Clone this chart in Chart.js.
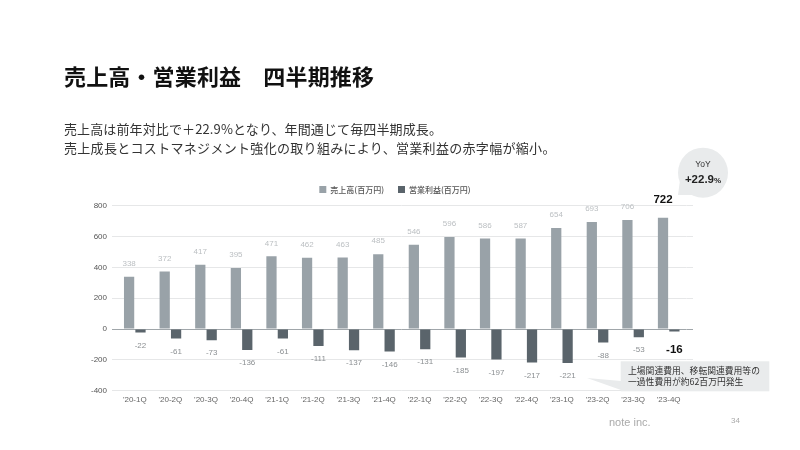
<!DOCTYPE html>
<html lang="ja"><head><meta charset="utf-8">
<style>
html,body{margin:0;padding:0;background:#fff;width:800px;height:450px;overflow:hidden}
body{position:relative;font-family:"Noto Sans CJK JP",sans-serif;color:#222}
canvas{position:absolute;left:0;top:0}
.t{position:absolute;white-space:nowrap}
svg{position:absolute;left:0;top:0}
</style>
<script src="https://cdn.jsdelivr.net/npm/chart.js@4/dist/chart.umd.min.js"></script>
</head><body>
<canvas id="c" width="800" height="450" style="width:800px;height:450px"></canvas>
<div class="t" style="left:64px;top:59px;font-size:22px;font-weight:700;line-height:32px;letter-spacing:.15px;color:#111">売上高・営業利益　四半期推移</div>
<div class="t" style="left:64px;top:119px;font-size:13px;line-height:19px;color:#333"><span style="letter-spacing:.12px">売上高は前年対比で＋22.9%となり、年間通じて毎四半期成長。</span><br><span style="letter-spacing:.31px">売上成長とコストマネジメント強化の取り組みにより、営業利益の赤字幅が縮小。</span></div>
<svg width="800" height="450">
<circle cx="703" cy="172.7" r="25" fill="#e9ebec"/><polygon points="680,180 678,195 694,195" fill="#e9ebec"/>
<polygon points="587,378 621,381 621,390" fill="#e9ebec"/><rect x="620.7" y="361.3" width="148.6" height="30" fill="#e9ebec"/>
</svg>
<div class="t" style="left:673px;width:60px;text-align:center;top:158px;font:8.5px/12px 'Liberation Sans',sans-serif;color:#333">YoY</div>
<div class="t" style="left:673px;width:60px;text-align:center;top:171px;font:700 11.5px/16px 'Liberation Sans',sans-serif;color:#222">+22.9<span style="font-size:8px">%</span></div>
<div class="t" style="left:628px;top:364.6px;font-size:8.8px;line-height:11.7px;color:#333">上場関連費用、移転関連費用等の<br>一過性費用が約62百万円発生</div>
<div class="t" style="left:609px;top:415px;font:300 11px/14px 'Liberation Sans',sans-serif;color:#aaa">note inc.</div>
<div class="t" style="left:731px;top:416px;font:8px/10px 'Liberation Sans',sans-serif;color:#aaa">34</div>
<script>
const categories=["'20-1Q","'20-2Q","'20-3Q","'20-4Q","'21-1Q","'21-2Q","'21-3Q","'21-4Q","'22-1Q","'22-2Q","'22-3Q","'22-4Q","'23-1Q","'23-2Q","'23-3Q","'23-4Q"];
const sales=[338,372,417,395,471,462,463,485,546,596,586,587,654,693,706,722];
const profit=[-22,-61,-73,-136,-61,-111,-137,-146,-131,-185,-197,-217,-221,-88,-53,-16];
const salesName="売上高(百万円)";
const profitName="営業利益(百万円)";
const yMin=-400,yMax=800,yStep=200;
const LATIN="'Liberation Sans',sans-serif";

const valueLabels={id:'valueLabels',afterDatasetsDraw(chart){
  const ctx=chart.ctx;ctx.save();ctx.textAlign='center';ctx.textBaseline='middle';
  chart.data.datasets.forEach((ds,d)=>{
    chart.getDatasetMeta(d).data.forEach((bar,i)=>{
      const last=i===ds.data.length-1, v=ds.data[i];
      const off=last?18:13;
      ctx.font=(last?'700 11.5px ':'8px ')+LATIN;
      ctx.fillStyle=last?'#111':(d===0?'#bbbfc2':'#8b8f92');
      ctx.fillText(String(v),bar.x,bar.y+(v<0?off:-off));
    });
  });
  ctx.restore();
}};
const gridExtend={id:'gridExtend',
  afterLayout(chart){chart.legend.top-=2;chart.legend.bottom-=2;},
  beforeDatasetsDraw(chart){
  const y=chart.scales.y,a=chart.chartArea,ctx=chart.ctx;ctx.save();ctx.lineWidth=1;
  y.ticks.forEach((t,i)=>{const p=Math.floor(y.getPixelForTick(i))+0.5;
    ctx.strokeStyle=t.value===0?'#a0a6aa':'#e6e7e8';
    ctx.beginPath();ctx.moveTo(a.right,p);ctx.lineTo(a.right+6.5,p);ctx.stroke();});
  ctx.restore();
}};

new Chart(document.getElementById('c'),{
  type:'bar',
  data:{labels:categories,datasets:[
    {label:salesName,data:sales,backgroundColor:'#99a2a8',categoryPercentage:.64,barPercentage:.9},
    {label:profitName,data:profit,backgroundColor:'#5a646b',categoryPercentage:.64,barPercentage:.9}
  ]},
  options:{
    responsive:false,animation:false,devicePixelRatio:1,
    layout:{padding:{left:87,right:97,top:173.6,bottom:41.7}},
    plugins:{
      legend:{position:'top',labels:{boxWidth:7,boxHeight:7,padding:14,color:'#555',font:{family:"'Noto Sans CJK JP'",size:8,weight:'500'}}},
      tooltip:{enabled:false},title:{display:false}
    },
    scales:{
      x:{grid:{display:false,drawTicks:false},border:{display:false},ticks:{color:'#666',font:{family:LATIN,size:8},padding:4,maxRotation:0,autoSkip:false}},
      y:{min:yMin,max:yMax,
        afterFit(s){s.width=30},
        border:{display:false},
        grid:{tickLength:5,color:c=>c.tick&&c.tick.value===0?'#a0a6aa':'#e6e7e8',lineWidth:1},
        ticks:{stepSize:yStep,color:'#555',padding:5,font:{family:LATIN,size:8}}},
      rightSpacer:{position:'right',
        afterFit(s){s.width=16.5},
        border:{display:false},
        grid:{display:false,drawTicks:false},
        ticks:{display:false}}
    }
  },
  plugins:[gridExtend,valueLabels]
});
</script>
</body></html>
